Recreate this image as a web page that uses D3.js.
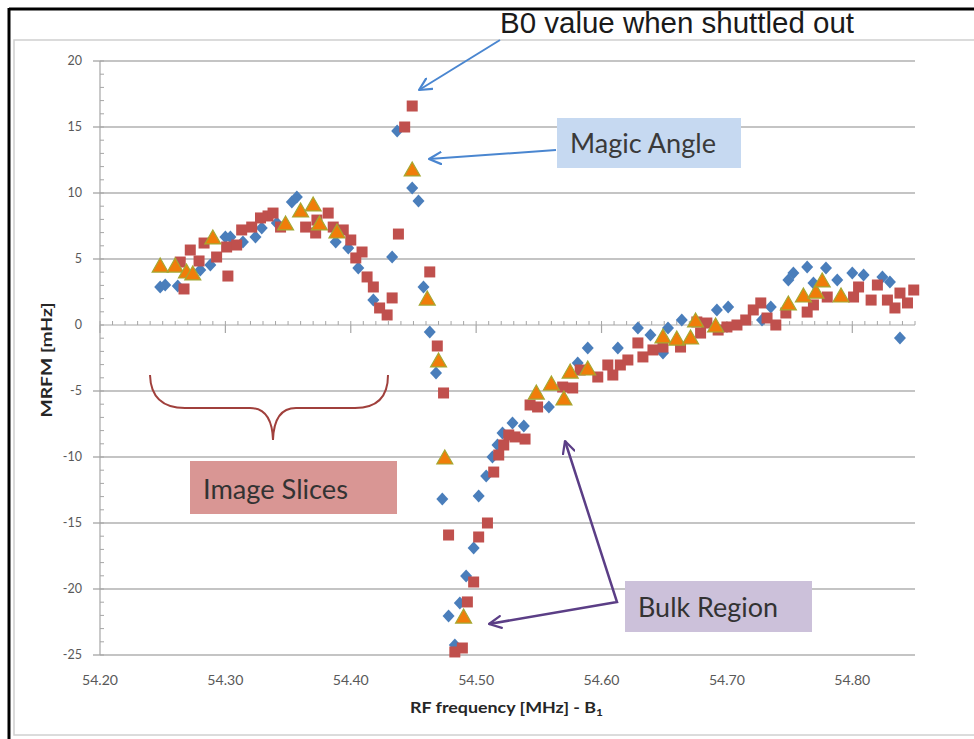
<!DOCTYPE html>
<html>
<head>
<meta charset="utf-8">
<script src="https://cdn.jsdelivr.net/npm/d3@7"></script>
<style>
  body { margin: 0; background: #fff; }
  svg { display: block; }
</style>
</head>
<body>
<div id="chart"></div>
<script>
// Blue diamonds [RF frequency, MRFM]
const blueSeries = [
  [54.248, 2.88], [54.252, 3.03], [54.262, 2.95], [54.280, 4.17], [54.288, 4.55],
  [54.300, 6.67], [54.304, 6.67], [54.314, 6.29], [54.324, 6.67], [54.329, 7.35],
  [54.341, 7.73], [54.353, 9.32], [54.357, 9.70], [54.388, 6.29], [54.398, 5.83],
  [54.406, 4.32], [54.418, 1.89], [54.433, 5.15], [54.437, 14.70], [54.449, 10.38],
  [54.454, 9.39], [54.458, 2.88], [54.463, -0.53], [54.468, -3.64], [54.473, -13.18],
  [54.478, -22.05], [54.483, -24.24], [54.487, -21.06], [54.492, -19.02], [54.498, -16.89],
  [54.502, -12.95], [54.508, -11.44], [54.513, -10.0], [54.517, -9.09], [54.521, -8.18],
  [54.529, -7.42], [54.538, -7.65], [54.558, -6.21], [54.581, -2.88], [54.589, -1.74],
  [54.613, -1.74], [54.629, -0.23], [54.639, -0.76], [54.653, -0.23], [54.649, -2.12],
  [54.664, 0.38], [54.692, 1.14], [54.701, 1.36], [54.728, 0.38], [54.735, 1.36],
  [54.749, 3.41], [54.753, 3.94], [54.764, 4.39], [54.769, 3.18], [54.779, 4.32],
  [54.788, 3.41], [54.800, 3.94], [54.809, 3.79], [54.824, 3.64], [54.830, 3.26],
  [54.838, -0.98]
];

// Red squares
const redSeries = [
  [54.267, 2.73], [54.264, 4.77], [54.272, 5.68], [54.279, 4.85], [54.283, 6.21],
  [54.293, 5.15], [54.302, 3.71], [54.301, 5.91], [54.309, 6.06], [54.313, 7.20],
  [54.321, 7.42], [54.328, 8.11], [54.334, 8.26], [54.338, 8.48], [54.344, 7.42],
  [54.364, 7.42], [54.372, 6.97], [54.373, 7.95], [54.382, 8.48], [54.386, 7.42],
  [54.394, 7.20], [54.400, 6.44], [54.404, 5.08], [54.409, 5.53], [54.413, 3.64],
  [54.418, 2.88], [54.423, 1.29], [54.429, 0.76], [54.433, 2.05], [54.438, 6.89],
  [54.443, 15.0], [54.449, 16.59], [54.463, 4.02], [54.469, -1.59], [54.474, -5.15],
  [54.478, -15.91], [54.483, -24.77], [54.489, -24.47], [54.493, -20.98], [54.498, -19.47],
  [54.502, -16.06], [54.509, -15.0], [54.514, -11.14], [54.518, -9.85], [54.522, -9.09],
  [54.526, -8.33], [54.531, -8.48], [54.539, -8.64], [54.543, -6.06], [54.549, -6.21],
  [54.569, -4.70], [54.577, -4.77], [54.583, -3.41], [54.597, -3.94], [54.605, -3.03],
  [54.609, -3.79], [54.615, -3.03], [54.621, -2.65], [54.629, -1.36], [54.633, -2.42],
  [54.641, -1.89], [54.649, -1.67], [54.663, -1.67], [54.676, 0.23], [54.679, -0.61],
  [54.684, 0.15], [54.693, -0.38], [54.700, -0.15], [54.708, 0.0], [54.715, 0.38],
  [54.721, 1.14], [54.727, 1.67], [54.732, 0.53], [54.739, 0.0], [54.747, 0.91],
  [54.764, 0.98], [54.769, 1.52], [54.780, 2.12], [54.801, 2.12], [54.805, 2.88],
  [54.815, 1.89], [54.820, 3.03], [54.828, 1.89], [54.834, 1.29], [54.838, 2.42],
  [54.844, 1.67], [54.849, 2.65]
];

// Orange triangles
const orangeSeries = [
  [54.248, 4.39], [54.260, 4.39], [54.269, 3.94], [54.274, 3.79], [54.290, 6.52],
  [54.348, 7.58], [54.360, 8.56], [54.370, 9.02], [54.375, 7.58], [54.389, 6.97],
  [54.449, 11.67], [54.461, 1.89], [54.470, -2.80], [54.475, -10.15], [54.490, -22.2],
  [54.548, -5.23], [54.560, -4.55], [54.570, -5.68], [54.575, -3.64], [54.589, -3.41],
  [54.649, -0.98], [54.660, -1.14], [54.671, -1.06], [54.675, 0.23], [54.691, -0.15],
  [54.749, 1.52], [54.761, 2.12], [54.771, 2.42], [54.776, 3.26], [54.791, 2.12]
];

const xTicks = [54.20, 54.30, 54.40, 54.50, 54.60, 54.70, 54.80];
const yTicks = [-25, -20, -15, -10, -5, 0, 5, 10, 15, 20];

const W = 974, H = 739;
const svg = d3.select("#chart").append("svg")
    .attr("width", W)
    .attr("height", H);

// frame of the slide crop
svg.append("line").attr("x1", 9).attr("x2", W).attr("y1", 9).attr("y2", 9)
    .attr("stroke", "#000").attr("stroke-width", 3);
svg.append("line").attr("x1", 9).attr("x2", 9).attr("y1", 8).attr("y2", H)
    .attr("stroke", "#000").attr("stroke-width", 3);
svg.append("rect").attr("x", 14).attr("y", 40).attr("width", W - 12).attr("height", H - 44)
    .attr("fill", "none").attr("stroke", "#d0d0d0").attr("stroke-width", 1.5);

const x = d3.scaleLinear().domain([54.20, 54.85]).range([100, 915]);
const y = d3.scaleLinear().domain([-25, 20]).range([655, 61]);

const font = "Lato, 'Open Sans', sans-serif";

// gridlines
svg.append("g")
    .selectAll("line")
    .data(yTicks.filter(d => d !== 0))
    .join("line")
    .attr("x1", 93).attr("x2", x(54.85))
    .attr("y1", d => y(d)).attr("y2", d => y(d))
    .attr("stroke", "#c4c4c4").attr("stroke-width", 2);

// y axis
const yAxis = svg.append("g").attr("transform", `translate(${x(54.20)},0)`);
yAxis.append("line").attr("y1", y(20)).attr("y2", y(-25))
    .attr("stroke", "#a6a6a6").attr("stroke-width", 1.2);
yAxis.selectAll(".minor")
    .data(d3.range(-25, 21, 1))
    .join("line")
    .attr("x1", 0).attr("x2", 4)
    .attr("y1", d => y(d)).attr("y2", d => y(d))
    .attr("stroke", "#a6a6a6").attr("stroke-width", 1);
yAxis.selectAll(".lbl")
    .data(yTicks)
    .join("text")
    .attr("x", -18).attr("y", d => y(d)).attr("dy", "0.35em")
    .attr("text-anchor", "end")
    .style("font-family", font)
    .style("font-size", "12.5px")
    .attr("fill", "#595959")
    .text(d => d);

// x axis at zero
const xAxis = svg.append("g").attr("transform", `translate(0,${y(0)})`);
xAxis.append("line").attr("x1", x(54.20)).attr("x2", x(54.85))
    .attr("stroke", "#a6a6a6").attr("stroke-width", 1.2);
xAxis.selectAll(".minor")
    .data(d3.range(0, 66).map(i => 54.20 + i * 0.01))
    .join("line")
    .attr("x1", d => x(d)).attr("x2", d => x(d))
    .attr("y1", 0).attr("y2", -4)
    .attr("stroke", "#a6a6a6").attr("stroke-width", 1);
xAxis.selectAll(".major")
    .data(xTicks)
    .join("line")
    .attr("x1", d => x(d)).attr("x2", d => x(d))
    .attr("y1", 0).attr("y2", 8)
    .attr("stroke", "#a6a6a6").attr("stroke-width", 1.2);

// x tick labels at the bottom
svg.append("g")
    .selectAll("text")
    .data(xTicks)
    .join("text")
    .attr("x", d => x(d)).attr("y", 685)
    .attr("text-anchor", "middle")
    .style("font-family", font)
    .style("font-size", "12.5px")
    .attr("textLength", 36).attr("lengthAdjust", "spacingAndGlyphs")
    .attr("fill", "#595959")
    .text(d3.format(".2f"));

// axis titles
svg.append("text")
    .attr("x", 410).attr("y", 713)
    .attr("textLength", 193).attr("lengthAdjust", "spacingAndGlyphs")
    .style("font-family", font)
    .style("font-size", "15px").style("font-weight", "bold")
    .attr("fill", "#262626")
    .html('RF frequency [MHz] - B<tspan font-size="10px" dy="3">1</tspan>');

svg.append("text")
    .attr("transform", "translate(52,360) rotate(-90)")
    .attr("text-anchor", "middle")
    .attr("textLength", 115).attr("lengthAdjust", "spacingAndGlyphs")
    .style("font-family", font)
    .style("font-size", "15px").style("font-weight", "bold")
    .attr("fill", "#262626")
    .text("MRFM [mHz]");

// markers
const diamond = "M0,-6.5L6,0L0,6.5L-6,0Z";
svg.append("g").selectAll("path")
    .data(blueSeries)
    .join("path")
    .attr("d", diamond)
    .attr("transform", d => `translate(${x(d[0])},${y(d[1])})`)
    .attr("fill", "#4a7ebb");

svg.append("g").selectAll("rect")
    .data(redSeries)
    .join("rect")
    .attr("x", d => x(d[0]) - 5.5).attr("y", d => y(d[1]) - 5.5)
    .attr("width", 11).attr("height", 11)
    .attr("fill", "#c0504d");

const tri = "M0,-9L8,5L-8,5Z";
svg.append("g").selectAll("path")
    .data(orangeSeries)
    .join("path")
    .attr("d", tri)
    .attr("transform", d => `translate(${x(d[0])},${y(d[1])})`)
    .attr("fill", "#f07d0a")
    .attr("stroke", "#a4a832").attr("stroke-width", 1.2);

// annotations
const defs = svg.append("defs");
function arrowHead(id, color) {
    defs.append("marker")
        .attr("id", id)
        .attr("viewBox", "0 0 14 14")
        .attr("refX", 13).attr("refY", 7)
        .attr("markerWidth", 14).attr("markerHeight", 14)
        .attr("markerUnits", "userSpaceOnUse")
        .attr("orient", "auto-start-reverse")
        .append("path")
        .attr("d", "M1,1L13,7L1,13")
        .attr("fill", "none").attr("stroke", color)
        .attr("stroke-width", 2.2).attr("stroke-linecap", "round").attr("stroke-linejoin", "round");
}
arrowHead("blueHead", "#4a86d0");
arrowHead("purpleHead", "#5b3e86");

svg.append("text")
    .attr("x", 500).attr("y", 33)
    .attr("textLength", 354).attr("lengthAdjust", "spacingAndGlyphs")
    .style("font-family", "'Liberation Sans', Arial, sans-serif")
    .style("font-size", "29px")
    .attr("fill", "#1a1a1a")
    .text("B0 value when shuttled out");

svg.append("line")
    .attr("x1", 419).attr("y1", 90).attr("x2", 500).attr("y2", 40)
    .attr("stroke", "#4a86d0").attr("stroke-width", 2)
    .attr("marker-start", "url(#blueHead)");

svg.append("rect").attr("x", 557).attr("y", 118).attr("width", 184).attr("height", 50)
    .attr("fill", "#c6d9f1");
svg.append("text").attr("x", 570).attr("y", 153)
    .attr("textLength", 146).attr("lengthAdjust", "spacingAndGlyphs")
    .style("font-family", font).style("font-size", "26px")
    .attr("fill", "#3a3a3a").text("Magic Angle");
svg.append("line")
    .attr("x1", 429).attr("y1", 159).attr("x2", 556).attr("y2", 150)
    .attr("stroke", "#4a86d0").attr("stroke-width", 2)
    .attr("marker-start", "url(#blueHead)");

// brace over image slices
svg.append("path")
    .attr("d", "M150,375 Q151,408 185,408 L250,408 Q272,408 273,440 Q274,408 296,408 L355,408 Q388,408 388,375")
    .attr("fill", "none").attr("stroke", "#a0403c").attr("stroke-width", 2);

svg.append("rect").attr("x", 190).attr("y", 461).attr("width", 207).attr("height", 53)
    .attr("fill", "#d99694");
svg.append("text").attr("x", 203).attr("y", 499)
    .attr("textLength", 145).attr("lengthAdjust", "spacingAndGlyphs")
    .style("font-family", font).style("font-size", "26px")
    .attr("fill", "#333").text("Image Slices");

svg.append("rect").attr("x", 625).attr("y", 581).attr("width", 187).attr("height", 51)
    .attr("fill", "#ccc1da");
svg.append("text").attr("x", 638).attr("y", 617)
    .attr("textLength", 140).attr("lengthAdjust", "spacingAndGlyphs")
    .style("font-family", font).style("font-size", "26px")
    .attr("fill", "#333").text("Bulk Region");

svg.append("path")
    .attr("d", "M565,441 L617,602 L489,624")
    .attr("fill", "none").attr("stroke", "#5b3e86").attr("stroke-width", 2.5)
    .attr("marker-start", "url(#purpleHead)")
    .attr("marker-end", "url(#purpleHead)");
</script>
</body>
</html>
